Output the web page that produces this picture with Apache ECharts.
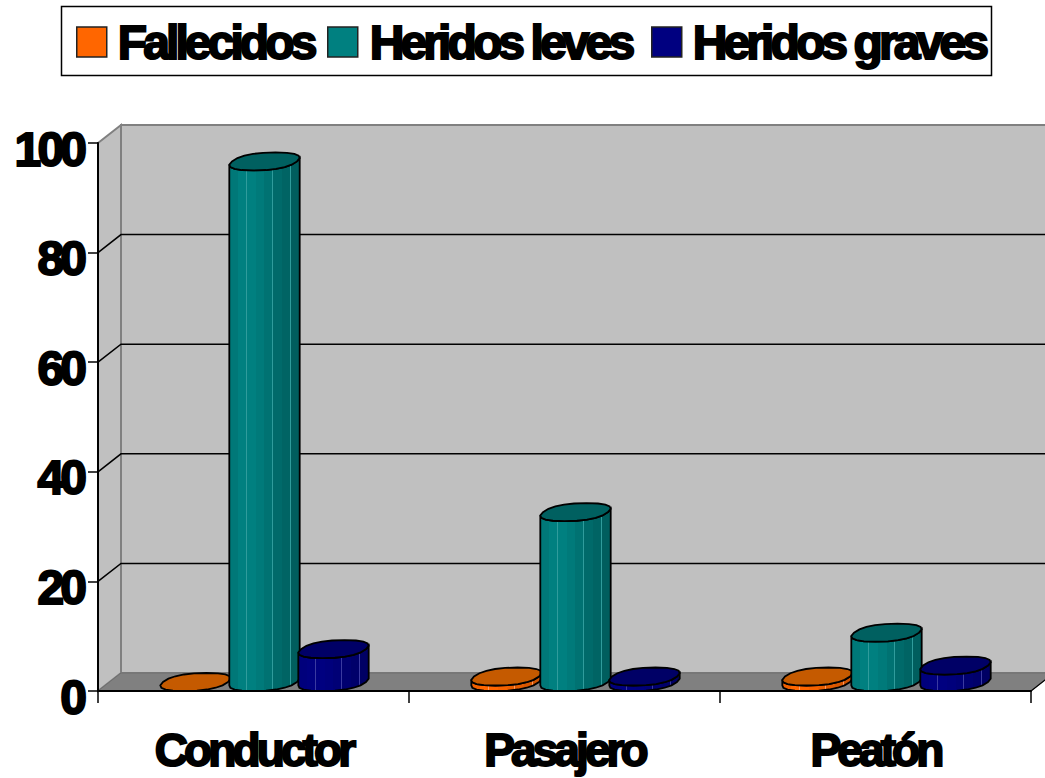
<!DOCTYPE html>
<html><head><meta charset="utf-8">
<style>html,body{margin:0;background:#fff}#c{width:1045px;height:778px}
svg text{letter-spacing:-3.9px}</style>
<script src="https://cdn.jsdelivr.net/npm/echarts@6/dist/echarts.min.js"></script>
</head><body><div id="c"></div>
<script>
const categories = ['Conductor','Pasajero','Peatón'];
const fallecidos = [0, 1, 1];
const heridosLeves = [95, 31, 9];
const heridosGraves = [6, 1, 3];
const yTicks = [0,20,40,60,80,100];

const DX = 23, DY = -18;
const palette = {
  Fallecidos:      {side:['#f06000','#ff6600','#ff6600','#f56200','#ea5e00','#e05a00','#d55500','#cc5200'], hi:'#ff9a60', cap:'#c55a00', legend:'#ff6600'},
  'Heridos leves': {side:['#007878','#008080','#008080','#007a7a','#007272','#006a6a','#006464','#005e5e'], hi:'#2f9c9c', cap:'#006060', legend:'#008080'},
  'Heridos graves':{side:['#00007c','#000080','#000080','#00007c','#000076','#000070','#00006a','#000064'], hi:'#3a3aa0', cap:'#000066', legend:'#000080'}
};
const hiBands = [1,4,6];
const U = 32.5, Vx = 11, Vy = -9, SEG = 20, POW = 0.85;

function sp(c){ return Math.sign(c)*Math.pow(Math.abs(c),POW); }
function pt(cx, cy, t){ const c=sp(Math.cos(t)), s=sp(Math.sin(t)); return [cx + U*c + Vx*s, cy + Vy*s]; }

function cyl(offset, pal){
  return function(params, api){
    const c = api.coord([api.value(0), api.value(1)]);
    const c0 = api.coord([api.value(0), 0]);
    const cx = c[0] + offset + DX/2 - 0.5, top = c[1] + Vy, base = c0[1] + Vy;
    const ts = [];
    for (let i=0;i<SEG;i++) ts.push(i*2*Math.PI/SEG);
    const cap = ts.map(t=>pt(cx,top,t));
    let iL=0,iR=0;
    cap.forEach((p,i)=>{ if(p[0]<cap[iL][0]) iL=i; if(p[0]>cap[iR][0]) iR=i; });
    const lowerTop=[], lowerBase=[];
    for (let i=iL;;i=(i+1)%SEG){ lowerTop.push(pt(cx,top,ts[i])); lowerBase.push(pt(cx,base,ts[i])); if(i===iR) break; }
    const left = cap[iL][0], w = cap[iR][0]-cap[iL][0], n = pal.side.length;
    const stops = [];
    pal.side.forEach((col,i)=>{
      stops.push({offset:i/n,color:col});
      if (hiBands.indexOf(i)>=0){
        stops.push({offset:(i+0.9)/n,color:col});
        stops.push({offset:(i+0.9)/n,color:pal.hi});
        stops.push({offset:(i+1)/n,color:pal.hi});
      } else stops.push({offset:(i+1)/n,color:col});
    });
    const children = [];
    if (top < base - 0.5) children.push({
      type:'polygon',
      shape:{points: lowerBase.concat(lowerTop.slice().reverse())},
      style:{fill:{type:'linear',x:left,y:0,x2:left+w,y2:0,global:true,colorStops:stops},stroke:'#000',lineWidth:1.8}
    });
    children.push({type:'polygon',shape:{points:cap},style:{fill:pal.cap,stroke:'#000',lineWidth:1.8}});
    return {type:'group',children};
  };
}

function walls(params, api){
  if (params.dataIndex !== 0) return;
  const x0 = api.coord([0,0])[0] - 155.5, x1 = 1031;
  const y = v => api.coord([0,v])[1];
  const ch = [];
  ch.push({type:'polygon',shape:{points:[[x0+DX,y(100)+DY],[x1+DX,y(100)+DY],[x1+DX,y(0)+DY],[x0+DX,y(0)+DY]]},style:{fill:'#c0c0c0',stroke:'#808080',lineWidth:2}});
  ch.push({type:'polygon',shape:{points:[[x0,y(100)],[x0+DX,y(100)+DY],[x0+DX,y(0)+DY],[x0,y(0)]]},style:{fill:'#c0c0c0',stroke:'#808080',lineWidth:2}});
  ch.push({type:'polygon',shape:{points:[[x0,y(0)],[x0+DX,y(0)+DY],[x1+DX,y(0)+DY],[x1,y(0)]]},style:{fill:'#808080',stroke:'#6e6e6e',lineWidth:1}});
  yTicks.slice(1,5).forEach(v=>{
    ch.push({type:'polyline',shape:{points:[[x0,y(v)],[x0+DX,y(v)+DY],[x1+DX,y(v)+DY]]},style:{fill:null,stroke:'#000',lineWidth:1.5}});
  });
  ch.push({type:'line',shape:{x1:x1,y1:y(0),x2:x1+DX,y2:y(0)+DY},style:{stroke:'#000',lineWidth:1.2}});
  return {type:'group',children:ch};
}

const font = {fontFamily:'Liberation Sans',fontWeight:'bold',fontSize:48,color:'#000',textBorderColor:'#000',textBorderWidth:2};
const names = ['Fallecidos','Heridos leves','Heridos graves'];
const values = [fallecidos, heridosLeves, heridosGraves];
const offsets = [-69,0,69];
const legendLeft = [71,322,646];
const legendPad = [6,7,6];

const chart = echarts.init(document.getElementById('c'),null,{renderer:'svg'});
chart.setOption({
  animation:false,
  backgroundColor:'#fff',
  graphic:[{type:'rect',z:-1,shape:{x:61.5,y:6.5,width:930,height:69},style:{fill:'#fff',stroke:'#000',lineWidth:1.5}}],
  legend:names.map((n,k)=>({
    left:legendLeft[k],top:12,padding:5,itemWidth:30,itemHeight:30,icon:'rect',
    data:[{name:n,itemStyle:{color:palette[n].legend,borderColor:'#222',borderWidth:1.5}}],
    textStyle:Object.assign({},font,{padding:[2,0,0,legendPad[k]]})
  })),
  grid:{left:98,right:14,top:143,bottom:87,outerBoundsMode:'none'},
  xAxis:{type:'category',data:categories,z:10,
    axisLine:{lineStyle:{color:'#000',width:2}},
    axisTick:{show:true,interval:0,length:12,lineStyle:{color:'#000',width:1.5}},
    axisLabel:Object.assign({},font,{fontSize:46,margin:39,lineHeight:40,interval:0,hideOverlap:false})},
  yAxis:{type:'value',min:0,max:100,interval:20,z:10,
    axisLine:{show:true,lineStyle:{color:'#000',width:2}},
    axisTick:{show:true,length:10,lineStyle:{color:'#000',width:1.5}},
    splitLine:{show:false},
    axisLabel:Object.assign({},font,{margin:15,verticalAlign:'top',lineHeight:12})},
  series:[
    {type:'custom',name:'walls',silent:true,z:1,clip:false,data:[[0,0]],encode:{x:0,y:1},renderItem:walls}
  ].concat(names.map((n,k)=>({
    type:'custom',name:n,z:3+(k===1?1:0)+(k===2?2:0),clip:false,
    itemStyle:{color:palette[n].legend},
    data:values[k].map((v,i)=>[i,v]),encode:{x:0,y:1},
    renderItem:cyl(offsets[k],palette[n])
  })))
});
</script></body></html>
